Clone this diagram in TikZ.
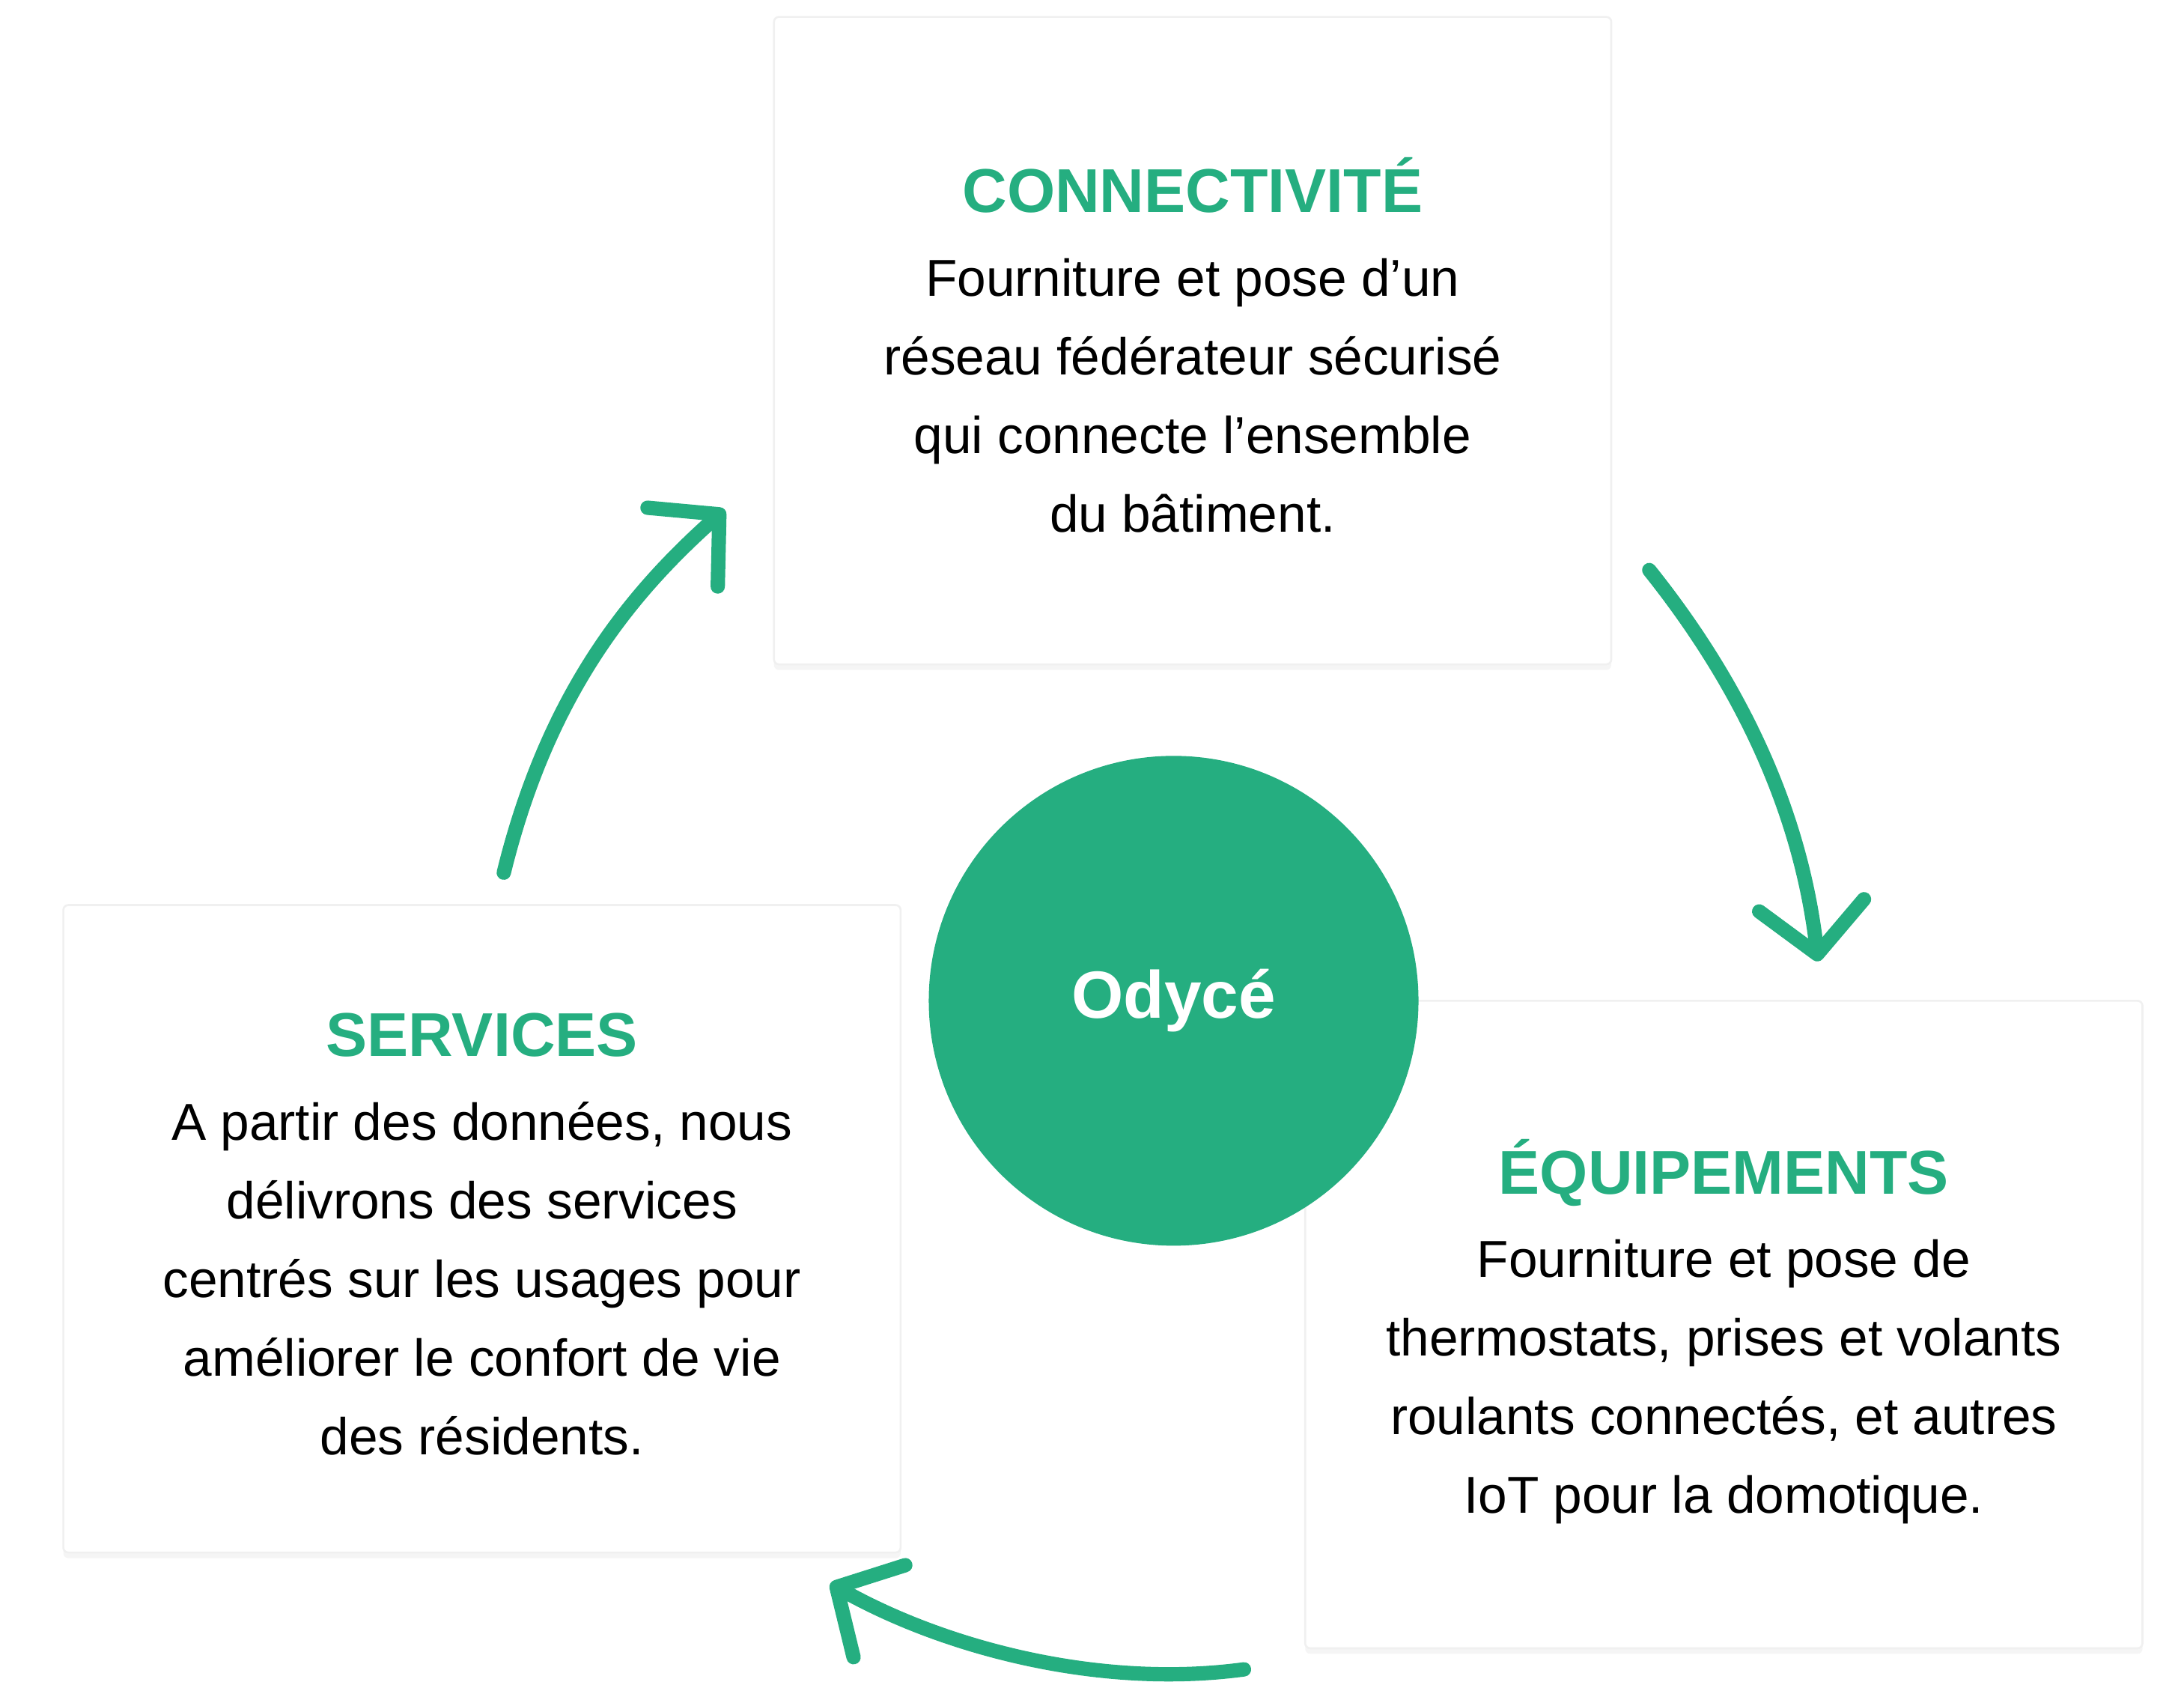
\documentclass[tikz,border=0pt]{standalone}
\usepackage{fontspec}
\setmainfont{Liberation Sans}
\usetikzlibrary{arrows.meta,shadows}
\definecolor{odygreen}{RGB}{37,174,128}
\begin{document}
\begin{tikzpicture}
\tikzset{card/.style={rectangle,draw=black!6,fill=white,minimum width=5.95cm,minimum height=4.6cm,rounded corners=1pt,drop shadow={shadow xshift=0pt,shadow yshift=-0.4mm,opacity=0.08}},
  txt/.style={align=center,font=\fontsize{10.5}{15.9}\selectfont},
  cycle/.style={odygreen,line width=2.9pt,line cap=round,-{Straight Barb[round,length=3.5mm,width=7.5mm]}}}
\useasboundingbox (0,0) rectangle (15.52,-11.97);

\node[card] (con) at (8.475,-2.42) {};
\node[card] (ser) at (3.425,-8.73) {};
\node[card] (equ) at (12.25,-9.41) {};
\node[circle,fill=odygreen,minimum size=3.48cm,text=white,font=\fontsize{13.5}{14}\selectfont\bfseries] (ody) at (8.34,-7.11) {Odycé};

\node[txt] at (8.475,-2.45) {{\bfseries\fontsize{12.5}{14}\selectfont\color{odygreen}CONNECTIVITÉ}\\[1pt]Fourniture et pose d’un\\réseau fédérateur sécurisé\\qui connecte l’ensemble\\du bâtiment.};
\node[txt] at (3.425,-8.77) {{\bfseries\fontsize{12.5}{14}\selectfont\color{odygreen}SERVICES}\\[1pt]A partir des données, nous\\délivrons des services\\centrés sur les usages pour\\améliorer le confort de vie\\des résidents.};
\node[txt] at (12.25,-9.46) {{\bfseries\fontsize{12.5}{14}\selectfont\color{odygreen}ÉQUIPEMENTS}\\[1pt]Fourniture et pose de\\thermostats, prises et volants\\roulants connectés, et autres\\IoT pour la domotique.};

\coordinate (s1) at (3.58,-6.2);  \coordinate (e1) at (5.15,-3.62);
\coordinate (s2) at (11.72,-4.05); \coordinate (e2) at (12.92,-6.83);
\coordinate (s3) at (8.84,-11.86); \coordinate (e3) at (5.9,-11.25);
\draw[cycle] (s1) .. controls (3.9,-4.9) and (4.5,-4.2) .. (e1);
\draw[cycle] (s2) .. controls (12.4,-4.9) and (12.8,-5.8) .. (e2);
\draw[cycle] (s3) .. controls (7.8,-12.0) and (6.7,-11.7) .. (e3);
\end{tikzpicture}
\end{document}
